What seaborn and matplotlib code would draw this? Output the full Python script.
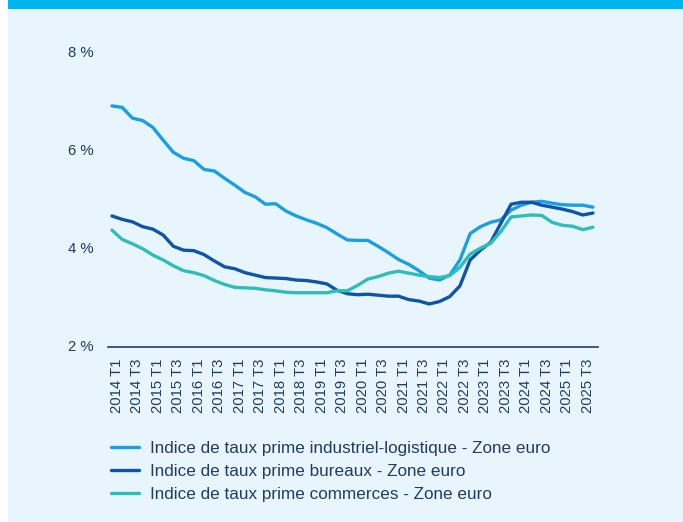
import numpy as np
import pandas as pd
import seaborn as sns
import matplotlib.pyplot as plt
import matplotlib.transforms as mtransforms

# Quarterly data, 2014 T1 -> 2025 T4
years = list(range(2014, 2026))
quarters = [f"{y} T{q}" for y in years for q in range(1, 5)]

industriel = [6.89, 6.86, 6.64, 6.59, 6.45, 6.19, 5.94, 5.82, 5.77, 5.59, 5.56, 5.41,
              5.27, 5.12, 5.03, 4.88, 4.89, 4.74, 4.64, 4.56, 4.49, 4.40, 4.27, 4.15,
              4.14, 4.14, 4.02, 3.89, 3.75, 3.65, 3.52, 3.37, 3.33, 3.43, 3.74, 4.28,
              4.42, 4.51, 4.56, 4.76, 4.86, 4.92, 4.94, 4.90, 4.87, 4.86, 4.86, 4.82]
bureaux = [4.64, 4.57, 4.52, 4.42, 4.37, 4.25, 4.02, 3.94, 3.93, 3.85, 3.72, 3.60,
           3.56, 3.48, 3.43, 3.38, 3.37, 3.36, 3.33, 3.32, 3.29, 3.25, 3.12, 3.05,
           3.03, 3.04, 3.02, 3.00, 3.00, 2.93, 2.90, 2.84, 2.89, 2.99, 3.21, 3.74,
           3.94, 4.10, 4.49, 4.88, 4.92, 4.92, 4.86, 4.82, 4.78, 4.73, 4.66, 4.70]
commerces = [4.35, 4.16, 4.07, 3.97, 3.84, 3.74, 3.62, 3.52, 3.48, 3.42, 3.32, 3.24,
             3.18, 3.17, 3.16, 3.13, 3.11, 3.08, 3.07, 3.07, 3.07, 3.07, 3.11, 3.11,
             3.22, 3.35, 3.40, 3.47, 3.51, 3.47, 3.43, 3.40, 3.38, 3.42, 3.59, 3.86,
             3.98, 4.08, 4.32, 4.62, 4.64, 4.66, 4.65, 4.51, 4.45, 4.43, 4.36, 4.41]

labels = ["Indice de taux prime industriel-logistique - Zone euro",
          "Indice de taux prime bureaux - Zone euro",
          "Indice de taux prime commerces - Zone euro"]
colors = ["#1a9fe0", "#0d55a5", "#2fbdb8"]
text_col = "#1f3d5e"
bg = "#e8f5fc"

df = pd.DataFrame({
    "idx": list(range(len(quarters))) * 3,
    "taux": industriel + bureaux + commerces,
    "serie": [labels[0]] * 48 + [labels[1]] * 48 + [labels[2]] * 48,
})

sns.set_style("white")
plt.rcParams["font.family"] = ["Liberation Sans", "DejaVu Sans"]

fig = plt.figure(figsize=(6.83, 5.22), dpi=100)
fig.patch.set_facecolor("white")
# light panel + top bar
fig.add_artist(plt.Rectangle((8 / 683, 0), 1, 1, transform=fig.transFigure,
                             facecolor=bg, edgecolor="none", zorder=-10))
fig.add_artist(plt.Rectangle((8 / 683, 1 - 9 / 522), 1, 9 / 522, transform=fig.transFigure,
                             facecolor="#00b5ef", edgecolor="none", zorder=-9))

ax = fig.add_axes([0.1581, 0.3352, 0.7174, 0.5659])
ax.set_facecolor("none")
sns.lineplot(data=df, x="idx", y="taux", hue="serie", palette=colors,
             linewidth=2.4, ax=ax, legend=True)

ax.set_xlim(-0.39, 47.49)
ax.set_ylim(1.96, 8.0)
ax.set_yticks([2, 4, 6, 8])
ax.set_yticklabels(["2 %", "4 %", "6 %", "8 %"])
ax.set_xticks(range(0, 48, 2))
ax.set_xticklabels(quarters[::2], rotation=90)
ax.tick_params(axis="both", length=0, labelsize=10.7, colors=text_col)
ax.tick_params(axis="y", pad=10)
ax.tick_params(axis="x", pad=8)
offset = mtransforms.ScaledTranslation(5 / 100, 0, fig.dpi_scale_trans)
for lab in ax.get_xticklabels():
    lab.set_transform(lab.get_transform() + offset)
ax.set_xlabel("")
ax.set_ylabel("")
for s in ["top", "right", "left"]:
    ax.spines[s].set_visible(False)
ax.spines["bottom"].set_color(text_col)
ax.spines["bottom"].set_linewidth(1.2)

ax.get_legend().remove()
handles, labs = ax.get_legend_handles_labels()
fig.legend(handles, labs, loc="upper left", bbox_to_anchor=(111 / 683, 1 - 441 / 522),
           frameon=False, fontsize=12.3, labelcolor=text_col, handlelength=1.65,
           handletextpad=0.62, labelspacing=0.48, borderpad=0, borderaxespad=0)

fig.savefig("out.png", dpi=100, facecolor=fig.get_facecolor())
